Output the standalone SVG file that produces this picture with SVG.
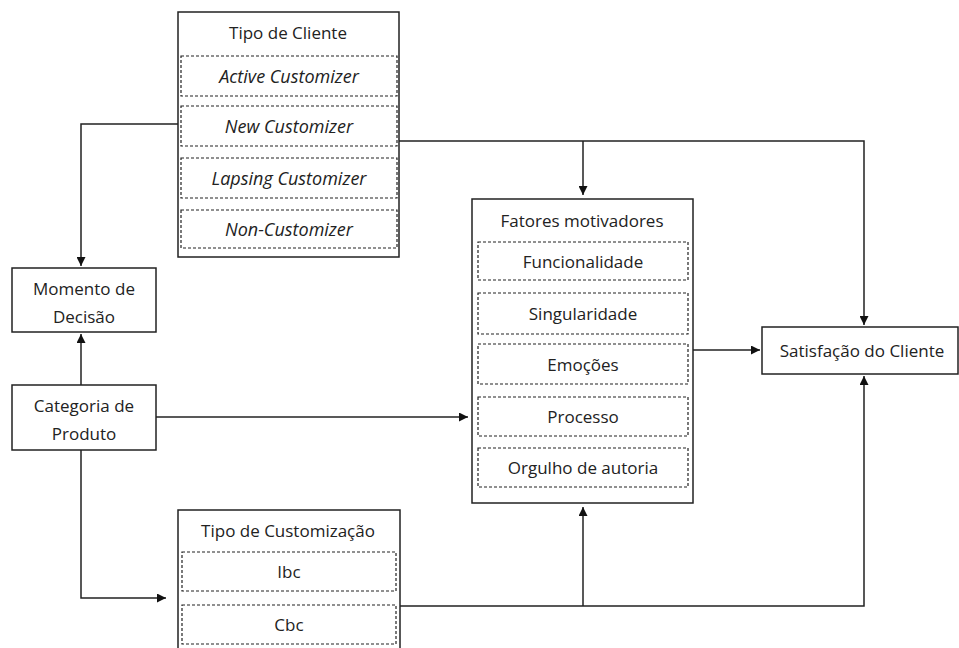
<svg xmlns="http://www.w3.org/2000/svg" width="959" height="648" viewBox="0 0 959 648">
<style>
.box{fill:#fff;stroke:#222;stroke-width:1.5}
.dash{fill:none;stroke:#222;stroke-width:1.2;stroke-dasharray:3,2}
.t{font-family:"Open Sans","Noto Sans",sans-serif;font-size:17px;fill:#222;text-anchor:middle;dominant-baseline:central}
.i{font-style:italic;font-size:18px}
.c{fill:none;stroke:#222;stroke-width:1.5}
</style>
<defs>
<marker id="ah" viewBox="0 0 10 10" refX="10" refY="5" markerWidth="9" markerHeight="9" markerUnits="userSpaceOnUse" orient="auto">
<path d="M0,0 L10,5 L0,10 Z" fill="#111"/>
</marker>
</defs>
<rect width="959" height="648" fill="#fff"/>
<g id="connectors">
<path class="c" d="M178,124 H81 V266" marker-end="url(#ah)"/>
<path class="c" d="M81,385 V334" marker-end="url(#ah)"/>
<path class="c" d="M399,141 H864 V325" marker-end="url(#ah)"/>
<path class="c" d="M583,141 V195" marker-end="url(#ah)"/>
<path class="c" d="M156,417 H468" marker-end="url(#ah)"/>
<path class="c" d="M81,450 V598 H166" marker-end="url(#ah)"/>
<path class="c" d="M400,606 H864 V376" marker-end="url(#ah)"/>
<path class="c" d="M583,606 V507" marker-end="url(#ah)"/>
<path class="c" d="M693,350 H760" marker-end="url(#ah)"/>
</g>
<g id="tipo-cliente">
<rect class="box" x="178" y="12" width="221" height="245"/>
<text class="t" x="288" y="32">Tipo de Cliente</text>
<rect class="dash" x="181" y="56" width="216" height="40"/>
<text class="t i" x="289" y="76">Active Customizer</text>
<rect class="dash" x="181" y="106" width="216" height="40"/>
<text class="t i" x="289" y="126">New Customizer</text>
<rect class="dash" x="181" y="158" width="216" height="40"/>
<text class="t i" x="289" y="178">Lapsing Customizer</text>
<rect class="dash" x="181" y="210" width="216" height="38"/>
<text class="t i" x="289" y="229">Non-Customizer</text>
</g>
<g id="momento">
<rect class="box" x="12" y="268" width="144" height="64"/>
<text class="t" x="84" y="288">Momento de</text>
<text class="t" x="84" y="316">Decisão</text>
</g>
<g id="categoria">
<rect class="box" x="12" y="385" width="144" height="65"/>
<text class="t" x="84" y="405">Categoria de</text>
<text class="t" x="84" y="433">Produto</text>
</g>
<g id="fatores">
<rect class="box" x="472" y="199" width="221" height="304"/>
<text class="t" x="582" y="220">Fatores motivadores</text>
<rect class="dash" x="478" y="242" width="210" height="38"/>
<text class="t" x="583" y="261">Funcionalidade</text>
<rect class="dash" x="478" y="293" width="210" height="41"/>
<text class="t" x="583" y="313">Singularidade</text>
<rect class="dash" x="478" y="344" width="210" height="40"/>
<text class="t" x="583" y="364">Emoções</text>
<rect class="dash" x="478" y="397" width="210" height="39"/>
<text class="t" x="583" y="416">Processo</text>
<rect class="dash" x="478" y="448" width="210" height="39"/>
<text class="t" x="583" y="467">Orgulho de autoria</text>
</g>
<g id="satisfacao">
<rect class="box" x="762" y="327" width="196" height="47"/>
<text class="t" x="862" y="350">Satisfação do Cliente</text>
</g>
<g id="tipo-customizacao">
<rect class="box" x="178" y="510" width="222" height="150"/>
<text class="t" x="288" y="530">Tipo de Customização</text>
<rect class="dash" x="182" y="552" width="214" height="39"/>
<text class="t" x="289" y="571">Ibc</text>
<rect class="dash" x="182" y="605" width="214" height="39"/>
<text class="t" x="289" y="624">Cbc</text>
</g>
</svg>
